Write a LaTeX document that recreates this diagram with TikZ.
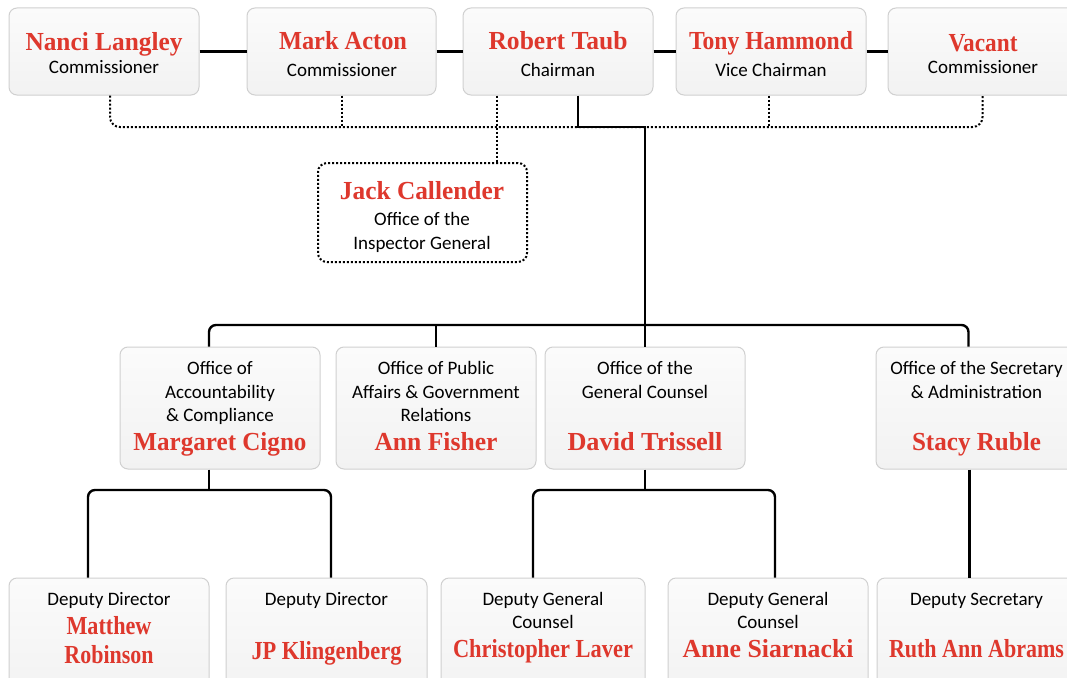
\documentclass[tikz,border=0pt]{standalone}
\usepackage{fontspec}
\setmainfont{Carlito}
\newfontfamily\namefont{Liberation Serif}
\usetikzlibrary{fit,calc}
\definecolor{namered}{RGB}{222,56,45}
\definecolor{boxborder}{RGB}{208,208,208}
\definecolor{boxtop}{RGB}{251,251,251}
\definecolor{boxbot}{RGB}{242,242,242}
\newcommand{\fitw}[2]{\resizebox{#1pt}{\height}{#2}}
\tikzset{
  box/.style={draw=boxborder, line width=1pt, rounded corners=8pt, top color=boxtop, bottom color=boxbot, inner sep=0pt},
  jbox/.style={draw=black, line width=2pt, dash pattern=on 2pt off 2pt, rounded corners=9pt, fill=white, inner sep=0pt},
  sub/.style={font=\fontsize{19}{23}\selectfont, anchor=base, inner sep=0pt},
  nmst/.style={font=\fontsize{26}{30}\selectfont\namefont\bfseries, text=namered, anchor=base, inner sep=0pt},
  solidln/.style={line width=2.4pt, black, rounded corners=7pt},
  sharpln/.style={line width=2.4pt, black},
  dotln/.style={line width=2pt, black, dash pattern=on 2pt off 2pt, rounded corners=10pt}
}
\begin{document}
\begin{tikzpicture}[x=1pt,y=-1pt]
\useasboundingbox (0,0) rectangle (1067,677);
\clip (0,0) rectangle (1067,677);
\fill[white] (0,0) rectangle (1067,677);
% boxes
\node[box, fit={(9,8) (199,95)}] (nanci) {};
\node[box, fit={(247,8) (436,95)}] (mark) {};
\node[box, fit={(463,8) (653,95)}] (robert) {};
\node[box, fit={(676,8) (866,95)}] (tony) {};
\node[box, fit={(888,8) (1077,95)}] (vacant) {};
\node[jbox, fit={(318,163) (527,262)}] (jack) {};
\node[box, fit={(120,347) (320,469)}] (margaret) {};
\node[box, fit={(336,347) (536,469)}] (ann) {};
\node[box, fit={(545,347) (745,469)}] (david) {};
\node[box, fit={(876,347) (1077,469)}] (stacy) {};
\node[box, fit={(9,578) (209,700)}] (matthew) {};
\node[box, fit={(226,578) (427,700)}] (jp) {};
\node[box, fit={(441,578) (645,700)}] (chris) {};
\node[box, fit={(668,578) (868,700)}] (anne) {};
\node[box, fit={(877,578) (1076,700)}] (ruth) {};
% texts row 1
\node[nmst] (t-nanci) at (104,50) {\fitw{157}{Nanci Langley}};
\node[sub] (s-nanci) at (104,74) {Commissioner};
\node[nmst] (t-mark) at (343,49) {\fitw{128}{Mark Acton}};
\node[sub] (s-mark) at (342,76) {Commissioner};
\node[nmst] (t-robert) at (558,49) {\fitw{139}{Robert Taub}};
\node[sub] (s-robert) at (558,76) {Chairman};
\node[nmst] (t-tony) at (771,49) {\fitw{164}{Tony Hammond}};
\node[sub] (s-tony) at (771,76) {Vice Chairman};
\node[nmst] (t-vacant) at (983,51) {\fitw{69}{Vacant}};
\node[sub] (s-vacant) at (983,74) {Commissioner};
% jack
\node[nmst] (t-jack) at (422,199) {\fitw{164}{Jack Callender}};
\node[sub] (s-jack1) at (422,225) {Office of the};
\node[sub] (s-jack2) at (422,249) {Inspector General};
% row 2
\node[sub] (s-mar1) at (220,374) {Office of};
\node[sub] (s-mar2) at (220,398) {Accountability};
\node[sub] (s-mar3) at (220,421) {\& Compliance};
\node[nmst] (t-mar) at (220,450) {\fitw{173}{Margaret Cigno}};
\node[sub] (s-ann1) at (436,374) {Office of Public};
\node[sub] (s-ann2) at (436,398) {Affairs \& Government};
\node[sub] (s-ann3) at (436,421) {Relations};
\node[nmst] (t-ann) at (436,450) {\fitw{123}{Ann Fisher}};
\node[sub] (s-dav1) at (645,374) {Office of the};
\node[sub] (s-dav2) at (645,398) {General Counsel};
\node[nmst] (t-dav) at (645,450) {\fitw{155}{David Trissell}};
\node[sub] (s-sta1) at (976.5,374) {Office of the Secretary};
\node[sub] (s-sta2) at (976.5,398) {\& Administration};
\node[nmst] (t-sta) at (976.5,450) {\fitw{129}{Stacy Ruble}};
% row 3
\node[sub] (s-mat1) at (109,605) {Deputy Director};
\node[nmst] (t-mat1) at (109,634) {\fitw{85}{Matthew}};
\node[nmst] (t-mat2) at (109,663) {\fitw{89}{Robinson}};
\node[sub] (s-jp1) at (326.5,605) {Deputy Director};
\node[nmst] (t-jp) at (326.5,659) {\fitw{150}{JP Klingenberg}};
\node[sub] (s-chr1) at (543,605) {Deputy General};
\node[sub] (s-chr2) at (543,628) {Counsel};
\node[nmst] (t-chr) at (543,657) {\fitw{180}{Christopher Laver}};
\node[sub] (s-ann1b) at (768,605) {Deputy General};
\node[sub] (s-ann2b) at (768,628) {Counsel};
\node[nmst] (t-annb) at (768,657) {\fitw{171}{Anne Siarnacki}};
\node[sub] (s-ruth1) at (976.5,605) {Deputy Secretary};
\node[nmst] (t-ruth) at (976.5,657) {\fitw{175}{Ruth Ann Abrams}};
% bus coordinates
\coordinate (dbus) at (0,127);
\coordinate (rbus) at (0,325);
\coordinate (mbus) at (0,490);
% row 1 solid links
\draw[sharpln] (nanci.east) -- (mark.west);
\draw[sharpln] (mark.east) -- (robert.west);
\draw[sharpln] (robert.east) -- (tony.west);
\draw[sharpln] (tony.east) -- (vacant.west);
% dotted links
\draw[dotln] ([xshift=6pt]nanci.south) |- (vacant.south |- dbus) -- (vacant.south);
\draw[dotln] (mark.south) -- (mark.south |- dbus);
\draw[dotln] ([xshift=-2pt]tony.south) -- ([xshift=-2pt]tony.south |- dbus);
\draw[dotln] ([xshift=-61pt]robert.south) -- ([xshift=-61pt]robert.south |- jack.north);
% main solid trunk
\draw[sharpln] ([xshift=20pt]robert.south) |- (david.north |- dbus) -- (david.north);
\draw[solidln] ([xshift=-11pt]margaret.north) |- ([xshift=-8pt]stacy.north |- rbus) -- ([xshift=-8pt]stacy.north);
\draw[sharpln] (ann.north |- rbus) -- (ann.north);
% row 3 links
\draw[sharpln] ([xshift=-11pt]margaret.south) -- ([xshift=-11pt]margaret.south |- mbus);
\draw[solidln] ([xshift=-21pt]matthew.north) |- ([xshift=4.5pt]jp.north |- mbus) -- ([xshift=4.5pt]jp.north);
\draw[sharpln] (david.south) -- (david.south |- mbus);
\draw[solidln] ([xshift=-10pt]chris.north) |- ([xshift=7pt]anne.north |- mbus) -- ([xshift=7pt]anne.north);
\draw[sharpln] ([xshift=-7pt]stacy.south) -- ([xshift=-7pt]stacy.south |- ruth.north);
\end{tikzpicture}
\end{document}
